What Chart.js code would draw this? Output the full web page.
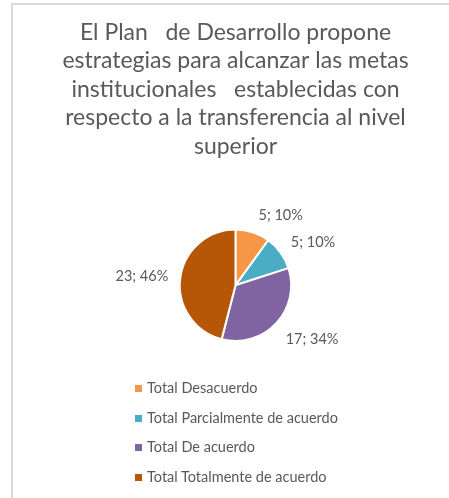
<!DOCTYPE html>
<html>
<head>
<meta charset="utf-8">
<script src="https://cdn.jsdelivr.net/npm/chart.js@4.4.1/dist/chart.umd.min.js"></script>
<style>
  body { margin: 0; background: #fff; }
  .wrap { position: relative; width: 449px; height: 498px; overflow: hidden; }
  .frame { position: absolute; left: 11px; top: 3px; right: -10px; bottom: -10px;
           border-top: 2px solid #d9d9d9; border-left: 2px solid #d9d9d9; }
  canvas { position: absolute; left: 0; top: 0; }
  #legend { position: absolute; left: 135px; top: 376px; font-family: Lato, sans-serif;
            font-size: 14.5px; color: #595959; }
  #legend div { height: 29.7px; line-height: 24px; white-space: nowrap; }
  #legend span { display: inline-block; width: 7px; height: 7px; margin-right: 5px; vertical-align: 1px; }
</style>
</head>
<body>
<div class="wrap">
  <div class="frame"></div>
  <canvas id="pie" width="449" height="498"></canvas>
  <div id="legend"></div>
</div>
<script>
// title lines as in the original
const titleLines = [
  'El Plan   de Desarrollo propone',
  'estrategias para alcanzar las metas',
  'institucionales   establecidas con',
  'respecto a la transferencia al nivel',
  'superior'
];
const categories = ['Total Desacuerdo', 'Total Parcialmente de acuerdo', 'Total De acuerdo', 'Total Totalmente de acuerdo'];
const counts = [5, 5, 17, 23];
const percents = [10, 10, 34, 46];
const colors = ['#F79646', '#4BACC6', '#8064A2', '#B65708'];

// labels "n; p%" just outside each slice
const outsideLabels = {
  id: 'outsideLabels',
  afterDatasetsDraw(chart) {
    const ctx = chart.ctx;
    const meta = chart.getDatasetMeta(0);
    ctx.save();
    ctx.font = '14.5px Lato, sans-serif';
    ctx.fillStyle = '#595959';
    ctx.textBaseline = 'middle';
    meta.data.forEach((arc, i) => {
      const p = arc.getProps(['x', 'y', 'startAngle', 'endAngle', 'outerRadius'], true);
      const mid = (p.startAngle + p.endAngle) / 2;
      const c = Math.cos(mid), s = Math.sin(mid);
      const r = p.outerRadius + 9;
      const ax = p.x + c * r;
      const ay = p.y + s * r;
      ctx.textAlign = c >= 0 ? 'left' : 'right';
      const tx = ax + (c >= 0 ? 3 : -3);
      const ty = ay + s * (s > 0 ? 14 : 9);
      ctx.fillText(counts[i] + '; ' + percents[i] + '%', tx, ty);
    });
    ctx.restore();
  }
};

const chart = new Chart(document.getElementById('pie'), {
  type: 'pie',
  data: {
    labels: categories,
    datasets: [{
      data: counts,
      backgroundColor: colors,
      borderColor: '#ffffff',
      borderWidth: 2
    }]
  },
  options: {
    responsive: false,
    animation: false,
    layout: { padding: { left: 22, bottom: 156 } },
    plugins: {
      legend: { display: false },
      tooltip: { enabled: false },
      title: {
        display: true,
        text: titleLines,
        color: '#595959',
        font: { family: 'Lato, sans-serif', size: 23, weight: 'normal', lineHeight: 1.24 },
        padding: { top: 18, bottom: 68 }
      }
    }
  },
  plugins: [outsideLabels]
});

// vertical legend built from the chart's own legend items
const items = chart.options.plugins.legend.labels.generateLabels(chart);
document.getElementById('legend').innerHTML = items.map(it =>
  `<div><span style="background:${it.fillStyle}"></span>${it.text}</div>`).join('');
</script>
</body>
</html>
